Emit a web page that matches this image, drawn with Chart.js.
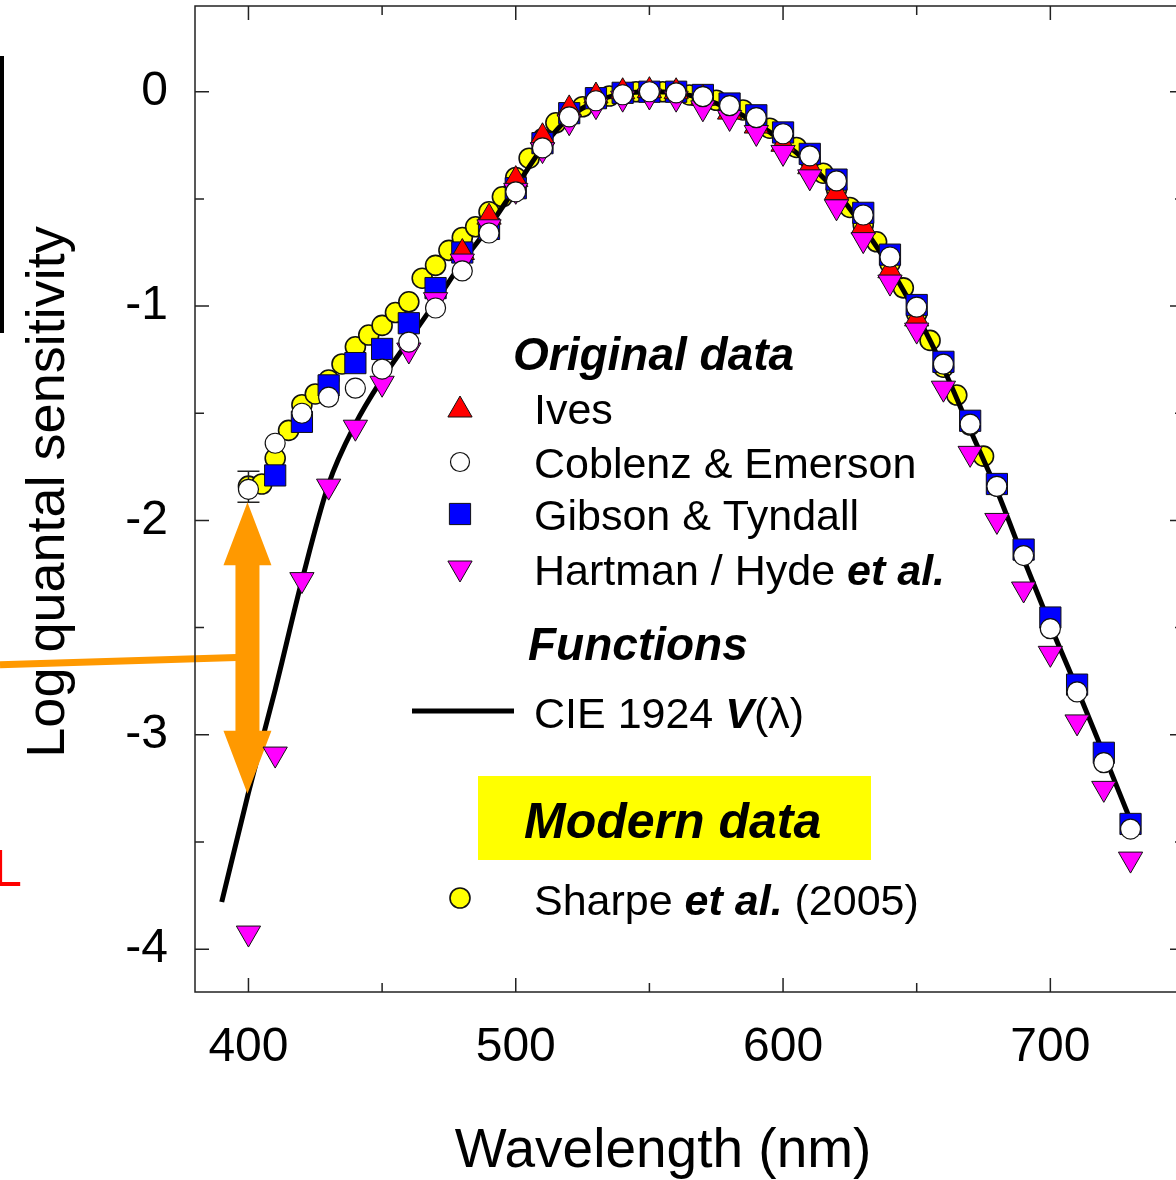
<!DOCTYPE html>
<html>
<head>
<meta charset="utf-8">
<script src="https://cdn.jsdelivr.net/npm/chart.js@4.4.1/dist/chart.umd.min.js"></script>
<style>
  html, body { margin: 0; padding: 0; background: #fff; overflow: hidden; }
  #wrap { position: absolute; left: 0; top: 0; width: 1200px; height: 1180px; }
</style>
</head>
<body>
<div id="wrap"><canvas id="c" width="1200" height="1180"></canvas></div>
<script>
// ---- wavelengths (nm) ----
const wlFull   = [400,410,420,430,440,450,460,470,480,490,500,510,520,530,540,550,560,570,580,590,600,610,620,630,640,650,660,670,680,690,700,710,720,730];
const wlIves   = [480,490,500,510,520,530,540,550,560,570,580,590,600,610,620,630,640,650];
const wlGibson = [410,420,430,440,450,460,470,480,490,500,510,520,530,540,550,560,570,580,590,600,610,620,630,640,650,660,670,680,690,700,710,720,730];
const wlSharpe = [400,405,410,415,420,425,430,435,440,445,450,455,460,465,470,475,480,485,490,495,500,505,510,515,520,525,530,535,540,545,550,555,560,565,570,575,580,585,590,595,600,605,610,615,620,625,630,635,640,645,650,655,660,665,670,675,680];
const wlCie    = [390,400,410,420,430,440,450,460,470,480,490,500,510,520,530,540,550,560,570,580,590,600,610,620,630,640,650,660,670,680,690,700,710,720,730];

// ---- log quantal sensitivity ----
const ives    = [-0.75,-0.585,-0.41,-0.21,-0.08,-0.02,0.0,0.005,0.0,-0.03,-0.095,-0.16,-0.245,-0.35,-0.47,-0.63,-0.835,-1.06];
const coblenz = [-1.855,-1.64,-1.50,-1.425,-1.383,-1.294,-1.168,-1.009,-0.836,-0.659,-0.467,-0.262,-0.117,-0.042,-0.014,0.0,-0.005,-0.023,-0.065,-0.121,-0.196,-0.299,-0.416,-0.575,-0.771,-1.005,-1.271,-1.551,-1.841,-2.164,-2.505,-2.80,-3.13,-3.44];
const gibson  = [-1.79,-1.54,-1.37,-1.266,-1.20,-1.08,-0.916,-0.75,-0.64,-0.45,-0.24,-0.10,-0.03,-0.005,0.0,0.0,-0.015,-0.055,-0.11,-0.19,-0.29,-0.41,-0.565,-0.76,-0.995,-1.26,-1.535,-1.83,-2.136,-2.453,-2.766,-3.084,-3.416];
const hartman = [-3.925,-3.09,-2.276,-1.84,-1.565,-1.36,-1.205,-0.97,-0.79,-0.63,-0.46,-0.27,-0.14,-0.065,-0.03,-0.02,-0.03,-0.075,-0.12,-0.19,-0.283,-0.397,-0.537,-0.69,-0.888,-1.112,-1.383,-1.687,-2.0,-2.32,-2.62,-2.94,-3.25,-3.58];
const sharpe  = [-1.84,-1.83,-1.71,-1.58,-1.46,-1.41,-1.345,-1.27,-1.19,-1.135,-1.09,-1.03,-0.98,-0.87,-0.81,-0.74,-0.68,-0.63,-0.56,-0.49,-0.40,-0.31,-0.22,-0.145,-0.10,-0.07,-0.04,-0.02,-0.01,0.0,0.0,0.0,-0.005,-0.015,-0.025,-0.04,-0.06,-0.085,-0.125,-0.17,-0.21,-0.26,-0.315,-0.38,-0.455,-0.54,-0.62,-0.70,-0.80,-0.915,-1.035,-1.16,-1.285,-1.415,-1.555,-1.70,-1.84];
const cieV    = [-3.78,-3.27,-2.79,-2.28,-1.83,-1.55,-1.34,-1.16,-0.98,-0.795,-0.63,-0.445,-0.26,-0.12,-0.045,-0.01,0.0,-0.006,-0.033,-0.08,-0.147,-0.234,-0.34,-0.467,-0.632,-0.82,-1.04,-1.29,-1.577,-1.86,-2.18,-2.49,-2.785,-3.09,-3.40];

// error bar on the 400 nm Coblenz & Emerson point
const errWl   = [400];
const errHigh = [-1.77];
const errLow  = [-1.915];

// arrow marking the gap at 400 nm
const gapWl   = 400;
const gapTop  = -1.915;
const gapBot  = -3.275;

// ---- axis ticks ----
const xTickValues = [400,450,500,550,600,650,700,750];
const xTickLabels = ['400','','500','','600','','700',''];
const yTickValues = [-4,-3.5,-3,-2.5,-2,-1.5,-1,-0.5,0];
const yTickLabels = ['-4','','-3','','-2','','-1','','0'];

const FONT = '"Liberation Sans", Arial, Helvetica, sans-serif';
const pts = (xs, ys) => xs.map((x, i) => ({ x: x, y: ys[i] }));

const datasets = [
  { label: 'Sharpe et al. (2005)', data: pts(wlSharpe, sharpe), order: 5,
    pointStyle: 'circle', pointRadius: 10, backgroundColor: '#ffff00', borderColor: '#111', borderWidth: 1.6 },
  { label: 'CIE 1924 V(λ)', data: pts(wlCie, cieV), order: 4, showLine: true,
    borderColor: '#000', borderWidth: 5, pointRadius: 0, cubicInterpolationMode: 'monotone', fill: false },
  { label: 'Gibson & Tyndall', data: pts(wlGibson, gibson), order: 3,
    pointStyle: 'rect', pointRadius: 15, backgroundColor: '#0000ff', borderColor: '#111', borderWidth: 1 },
  { label: 'Ives', data: pts(wlIves, ives), order: 2,
    pointStyle: 'triangle', pointRadius: 14, backgroundColor: '#ff0000', borderColor: '#111', borderWidth: 1 },
  { label: 'Hartman / Hyde et al.', data: pts(wlFull, hartman), order: 1,
    pointStyle: 'triangle', pointRotation: 180, pointRadius: 14, backgroundColor: '#ff00ff', borderColor: '#111', borderWidth: 1 },
  { label: 'Coblenz & Emerson', data: pts(wlFull, coblenz), order: 0,
    pointStyle: 'circle', pointRadius: 10, backgroundColor: '#ffffff', borderColor: '#111', borderWidth: 1.2 }
];
const CIE_INDEX = 1;

function marker(ctx, style, x, y, r, rot, fill, stroke, bw) {
  ctx.save();
  ctx.fillStyle = fill; ctx.strokeStyle = stroke; ctx.lineWidth = bw;
  ctx.beginPath();
  if (style === 'circle') {
    ctx.arc(x, y, r, 0, Math.PI * 2);
  } else if (style === 'rect') {
    const s = r * Math.SQRT1_2;
    ctx.rect(x - s, y - s, 2 * s, 2 * s);
  } else {
    let a = (rot || 0) * Math.PI / 180;
    for (let i = 0; i < 3; i++) {
      const px = x + Math.sin(a) * r, py = y - Math.cos(a) * r;
      if (i) ctx.lineTo(px, py); else ctx.moveTo(px, py);
      a += 2 * Math.PI / 3;
    }
    ctx.closePath();
  }
  ctx.fill();
  if (bw > 0) ctx.stroke();
  ctx.restore();
}

function textRuns(ctx, x, y, parts) {
  ctx.textAlign = 'left';
  ctx.textBaseline = 'alphabetic';
  for (const [t, f] of parts) {
    ctx.font = f;
    ctx.fillText(t, x, y);
    x += ctx.measureText(t).width;
  }
}

const REG = '43px ' + FONT;
const BI  = 'italic bold 43px ' + FONT;

function noPad(s) {
  s.paddingTop = 0; s.paddingBottom = 0; s.paddingLeft = 0; s.paddingRight = 0;
}

const overlayPlugin = {
  id: 'overlay',
  afterDatasetDraw(chart, args) {
    if (args.index !== CIE_INDEX) return;
    const ctx = chart.ctx, xs = chart.scales.x, ys = chart.scales.y;
    // error bar
    ctx.save();
    ctx.strokeStyle = '#222'; ctx.lineWidth = 1.5;
    errWl.forEach((w, i) => {
      const px = xs.getPixelForValue(w);
      const y1 = ys.getPixelForValue(errHigh[i]), y2 = ys.getPixelForValue(errLow[i]);
      ctx.beginPath();
      ctx.moveTo(px, y1); ctx.lineTo(px, y2);
      ctx.moveTo(px - 11, y1); ctx.lineTo(px + 11, y1);
      ctx.moveTo(px - 11, y2); ctx.lineTo(px + 11, y2);
      ctx.stroke();
    });
    // orange double-headed arrow and its leader line
    const ax = xs.getPixelForValue(gapWl) - 1;
    const yt = ys.getPixelForValue(gapTop), yb = ys.getPixelForValue(gapBot);
    const head = 63, hw = 24, sw = 12;
    ctx.fillStyle = '#ff9900';
    ctx.beginPath();
    ctx.moveTo(ax, yt);
    ctx.lineTo(ax + hw, yt + head); ctx.lineTo(ax + sw, yt + head);
    ctx.lineTo(ax + sw, yb - head); ctx.lineTo(ax + hw, yb - head);
    ctx.lineTo(ax, yb);
    ctx.lineTo(ax - hw, yb - head); ctx.lineTo(ax - sw, yb - head);
    ctx.lineTo(ax - sw, yt + head); ctx.lineTo(ax - hw, yt + head);
    ctx.closePath();
    ctx.fill();
    ctx.strokeStyle = '#ff9900'; ctx.lineWidth = 7;
    ctx.beginPath();
    ctx.moveTo(0, ys.getPixelForValue(-2.673));
    ctx.lineTo(ax - sw + 1, ys.getPixelForValue(-2.64));
    ctx.stroke();
    ctx.restore();
  },
  afterDraw(chart) {
    const ctx = chart.ctx, a = chart.chartArea, xs = chart.scales.x, ys = chart.scales.y;
    ctx.save();
    // frame
    ctx.strokeStyle = '#222'; ctx.lineWidth = 1.5;
    ctx.strokeRect(a.left, a.top, a.right - a.left, a.bottom - a.top);
    // inward ticks on all four sides
    ctx.beginPath();
    xTickValues.forEach((v, i) => {
      const p = xs.getPixelForValue(v), L = xTickLabels[i] ? 14 : 9;
      ctx.moveTo(p, a.bottom); ctx.lineTo(p, a.bottom - L);
      ctx.moveTo(p, a.top); ctx.lineTo(p, a.top + L);
    });
    yTickValues.forEach((v, i) => {
      const p = ys.getPixelForValue(v), L = yTickLabels[i] ? 14 : 9;
      ctx.moveTo(a.left, p); ctx.lineTo(a.left + L, p);
      ctx.moveTo(a.right, p); ctx.lineTo(a.right - L, p);
    });
    ctx.stroke();

    // axis titles
    ctx.fillStyle = '#000';
    ctx.font = '55px ' + FONT;
    ctx.textAlign = 'center'; ctx.textBaseline = 'alphabetic';
    ctx.fillText('Wavelength (nm)', 663, 1167);
    ctx.save();
    ctx.translate(64, 492); ctx.rotate(-Math.PI / 2);
    ctx.font = '54px ' + FONT;
    ctx.fillText('Log quantal sensitivity', 0, 0);
    ctx.restore();

    // legend
    const ds = chart.data.datasets;
    const mk = (d, x, y, r) => marker(ctx, d.pointStyle, x, y, r, d.pointRotation || 0, d.backgroundColor, d.borderColor, d.borderWidth);
    ctx.fillStyle = '#000';
    textRuns(ctx, 513, 370, [['Original data', 'italic bold 46px ' + FONT]]);
    mk(ds[3], 460, 410, 14);
    textRuns(ctx, 534, 424, [['Ives', REG]]);
    mk(ds[5], 460, 462, 9.5);
    textRuns(ctx, 534, 478, [['Coblenz & Emerson', REG]]);
    mk(ds[2], 460, 514, 15);
    textRuns(ctx, 534, 530, [['Gibson & Tyndall', REG]]);
    mk(ds[4], 460, 568, 14);
    textRuns(ctx, 534, 585, [['Hartman / Hyde ', REG], ['et al.', BI]]);
    textRuns(ctx, 528, 660, [['Functions', 'italic bold 46px ' + FONT]]);
    ctx.strokeStyle = ds[1].borderColor; ctx.lineWidth = ds[1].borderWidth;
    ctx.beginPath(); ctx.moveTo(412, 711); ctx.lineTo(514, 711); ctx.stroke();
    textRuns(ctx, 534, 728, [['CIE 1924 ', REG], ['V', BI], ['(λ)', REG]]);
    ctx.fillStyle = '#ffff00';
    ctx.fillRect(478, 776, 393, 84);
    ctx.fillStyle = '#000';
    textRuns(ctx, 524, 838, [['Modern data', 'italic bold 50px ' + FONT]]);
    mk(ds[0], 460, 898, 10);
    ctx.fillStyle = '#000';
    textRuns(ctx, 534, 915, [['Sharpe ', REG], ['et al.', BI], [' (2005)', REG]]);

    // fragments at the left margin
    ctx.fillStyle = '#000';
    ctx.fillRect(0, 56, 4, 277);
    ctx.fillStyle = '#ff0000';
    ctx.font = '52px ' + FONT;
    ctx.textAlign = 'left';
    ctx.fillText('L', -7, 886);
    ctx.restore();
  }
};

new Chart(document.getElementById('c'), {
  type: 'scatter',
  data: { datasets: datasets },
  options: {
    responsive: false,
    animation: false,
    devicePixelRatio: 1,
    events: [],
    layout: { autoPadding: false, padding: { left: 0, top: 6, right: 16, bottom: 0 } },
    plugins: { legend: { display: false }, tooltip: { enabled: false } },
    scales: {
      x: {
        type: 'linear', min: 380, max: 750, position: 'bottom',
        grid: { display: false, drawTicks: false }, border: { display: false },
        ticks: {
          font: { family: FONT, size: 48 }, color: '#000', padding: 27,
          maxRotation: 0, autoSkip: false,
          callback: v => { const i = xTickValues.indexOf(v); return i < 0 ? '' : xTickLabels[i]; }
        },
        afterBuildTicks: s => { s.ticks = xTickValues.map(v => ({ value: v })); },
        afterFit: s => { s.height = 188; noPad(s); }
      },
      y: {
        type: 'linear', min: -4.2, max: 0.4, position: 'left',
        grid: { display: false, drawTicks: false }, border: { display: false },
        ticks: {
          font: { family: FONT, size: 48 }, color: '#000', padding: 27,
          callback: v => { const i = yTickValues.indexOf(v); return i < 0 ? '' : yTickLabels[i]; }
        },
        afterBuildTicks: s => { s.ticks = yTickValues.map(v => ({ value: v })); },
        afterFit: s => { s.width = 195; noPad(s); }
      }
    }
  },
  plugins: [overlayPlugin]
});
</script>
</body>
</html>
